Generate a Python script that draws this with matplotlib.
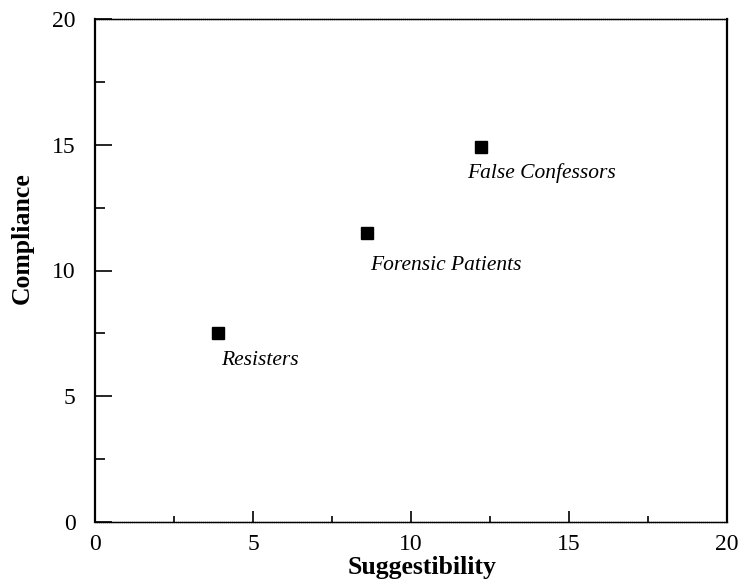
import matplotlib
matplotlib.use("Agg")
import matplotlib.pyplot as plt
from matplotlib.ticker import MultipleLocator

# group means
groups = ["Resisters", "Forensic Patients", "False Confessors"]
suggestibility = [3.9, 8.6, 12.2]
compliance = [7.5, 11.5, 14.9]
label_offsets = [(3, -27), (3, -33), (-13, -26)]   # pixels, text left/center

plt.rcParams['font.family'] = ['Liberation Serif', 'DejaVu Serif']

fig = plt.figure(figsize=(7.38, 5.8), dpi=100)
ax = fig.add_axes([95/738, 1 - 522/580, 632/738, 503/580])

ax.plot(suggestibility, compliance, 's', color='black', markersize=9)
for g, x, y, off in zip(groups, suggestibility, compliance, label_offsets):
    ax.annotate(g, (x, y), xytext=off, textcoords='offset pixels',
                ha='left', va='center', style='italic', fontsize=15.5)

ax.set_xlim(0, 20)
ax.set_ylim(0, 20)
ax.xaxis.set_major_locator(MultipleLocator(5))
ax.xaxis.set_minor_locator(MultipleLocator(2.5))
ax.yaxis.set_major_locator(MultipleLocator(5))
ax.yaxis.set_minor_locator(MultipleLocator(2.5))
ax.tick_params(axis='x', which='major', direction='in', length=8, width=1.2,
               labelsize=17, pad=9)
ax.tick_params(axis='x', which='minor', direction='in', length=4, width=1.2)
ax.tick_params(axis='y', which='major', direction='in', length=12, width=1.2,
               labelsize=17, pad=14)
ax.tick_params(axis='y', which='minor', direction='in', length=7, width=1.2)

ax.spines['left'].set_linewidth(1.6)
ax.spines['right'].set_linewidth(1.6)
ax.spines['top'].set_linewidth(1.0)
ax.spines['bottom'].set_linewidth(1.0)
ax.spines['top'].set_linestyle((0, (1, 0.5)))
ax.spines['bottom'].set_linestyle((0, (1, 0.5)))

ax.set_xlabel("Suggestibility", fontsize=18.5, fontweight='bold')
ax.set_ylabel("Compliance", fontsize=18.5, fontweight='bold')
ax.xaxis.set_label_coords(0.517, -0.067)
ax.yaxis.set_label_coords(-0.097, 0.564)

fig.savefig("out.png", dpi=100)
